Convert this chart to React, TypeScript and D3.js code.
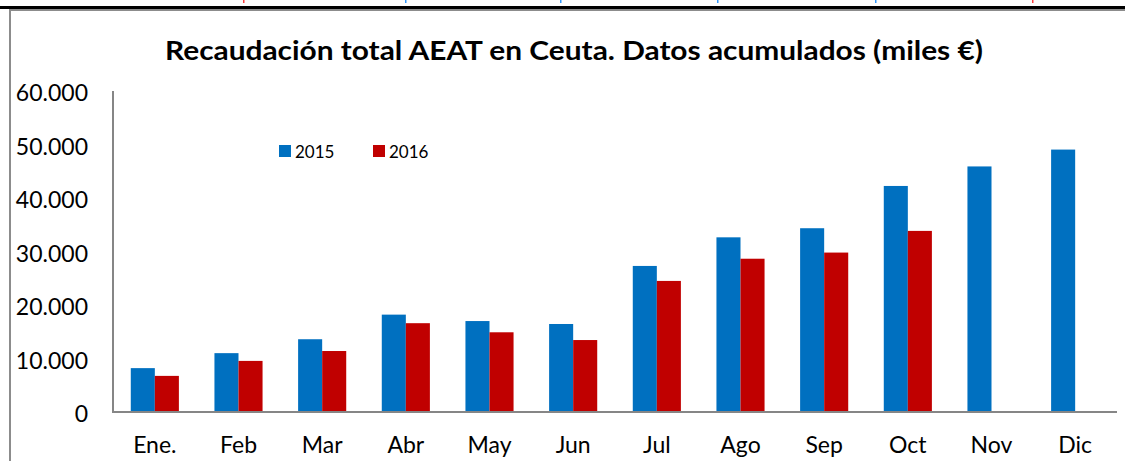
import React from 'react';
import * as d3 from 'd3';

const months = ['Ene.', 'Feb', 'Mar', 'Abr', 'May', 'Jun', 'Jul', 'Ago', 'Sep', 'Oct', 'Nov', 'Dic'];
const series = ['2015', '2016'];
const values2015 = [8200, 11000, 13600, 18200, 17000, 16450, 27300, 32650, 34350, 42250, 45900, 49050];
const values2016 = [6750, 9550, 11400, 16600, 14900, 13450, 24500, 28650, 29800, 33850, null, null];
const yTicks = [0, 10000, 20000, 30000, 40000, 50000, 60000];
const colors = { '2015': '#0070C0', '2016': '#C00000' };
const title = 'Recaudación total AEAT en Ceuta. Datos acumulados (miles €)';

// tiny marks left over from the chart above the frame
const topMarks = [
  { x: 243, color: '#ff4040' },
  { x: 405, color: '#3399ff' },
  { x: 560, color: '#3399ff' },
  { x: 717, color: '#3399ff' },
  { x: 875, color: '#3399ff' },
  { x: 1032, color: '#ff4040' },
];

const W = 1125;
const H = 461;
const font = 'Lato, "Open Sans", sans-serif';

export default function App() {
  const margin = { left: 113, right: 8, top: 91, bottom: 49 };

  const x0 = d3.scaleBand<string>()
    .domain(months)
    .range([margin.left, W - margin.right])
    .padding(0);
  const groupW = x0.bandwidth() * 0.575;
  const x1 = d3.scaleBand<string>().domain(series).range([0, groupW]);

  const y = d3.scaleLinear()
    .domain([0, 60000])
    .range([H - margin.bottom, margin.top]);

  const fmt = (v: number) => (v === 0 ? '0' : d3.format(',')(v).replace(/,/g, '.'));

  const bars: { key: string; s: string; x: number; v: number }[] = [];
  months.forEach((m, i) => {
    const vals = { '2015': values2015[i], '2016': values2016[i] };
    series.forEach(s => {
      const v = vals[s];
      if (v == null) return;
      bars.push({ key: m + s, s, x: x0(m)! + (x0.bandwidth() - groupW) / 2 + x1(s)!, v });
    });
  });

  return (
    <svg width={W} height={H} style={{ position: 'absolute', left: 0, top: 0, background: '#fff' }}>
      {/* frame */}
      {topMarks.map(d => (
        <rect key={d.x} x={d.x} y={0} width={1.5} height={3} fill={d.color} />
      ))}
      <rect x={0} y={6} width={W} height={3} fill="#000" />
      <rect x={9} y={9} width={W - 9} height={2} fill="#8c8c8c" />
      <rect x={9} y={9} width={2} height={H - 9} fill="#8c8c8c" />

      {/* title */}
      <text
        x={574}
        y={60}
        textAnchor="middle"
        fontFamily={font}
        fontWeight="bold"
        fontSize={26}
        textLength={818}
        lengthAdjust="spacingAndGlyphs"
        fill="#000"
      >
        {title}
      </text>

      {/* bars */}
      {bars.map(b => (
        <rect
          key={b.key}
          x={b.x}
          y={y(b.v)}
          width={x1.bandwidth()}
          height={y(0) - y(b.v)}
          fill={colors[b.s]}
        />
      ))}

      {/* axes */}
      <line x1={margin.left} x2={margin.left} y1={y(60000)} y2={y(0)} stroke="#868686" strokeWidth={2} />
      <line x1={margin.left - 1} x2={W - margin.right} y1={y(0)} y2={y(0)} stroke="#868686" strokeWidth={2} />

      {yTicks.map(t => (
        <text
          key={t}
          x={88}
          y={y(t) + 1}
          textAnchor="end"
          dominantBaseline="central"
          fontFamily={font}
          fontSize={23}
          fill="#000"
        >
          {fmt(t)}
        </text>
      ))}

      {months.map(m => (
        <text
          key={m}
          x={x0(m)! + x0.bandwidth() / 2}
          y={453}
          textAnchor="middle"
          fontFamily={font}
          fontSize={23}
          fill="#000"
        >
          {m}
        </text>
      ))}

      {/* legend */}
      {series.map((s, i) => (
        <g key={s} transform={`translate(${279 + i * 94},145)`}>
          <rect x={0} y={0} width={12} height={12} fill={colors[s]} />
          <text x={16} y={6} dominantBaseline="central" fontFamily={font} fontSize={17} fill="#000">
            {s}
          </text>
        </g>
      ))}
    </svg>
  );
}
